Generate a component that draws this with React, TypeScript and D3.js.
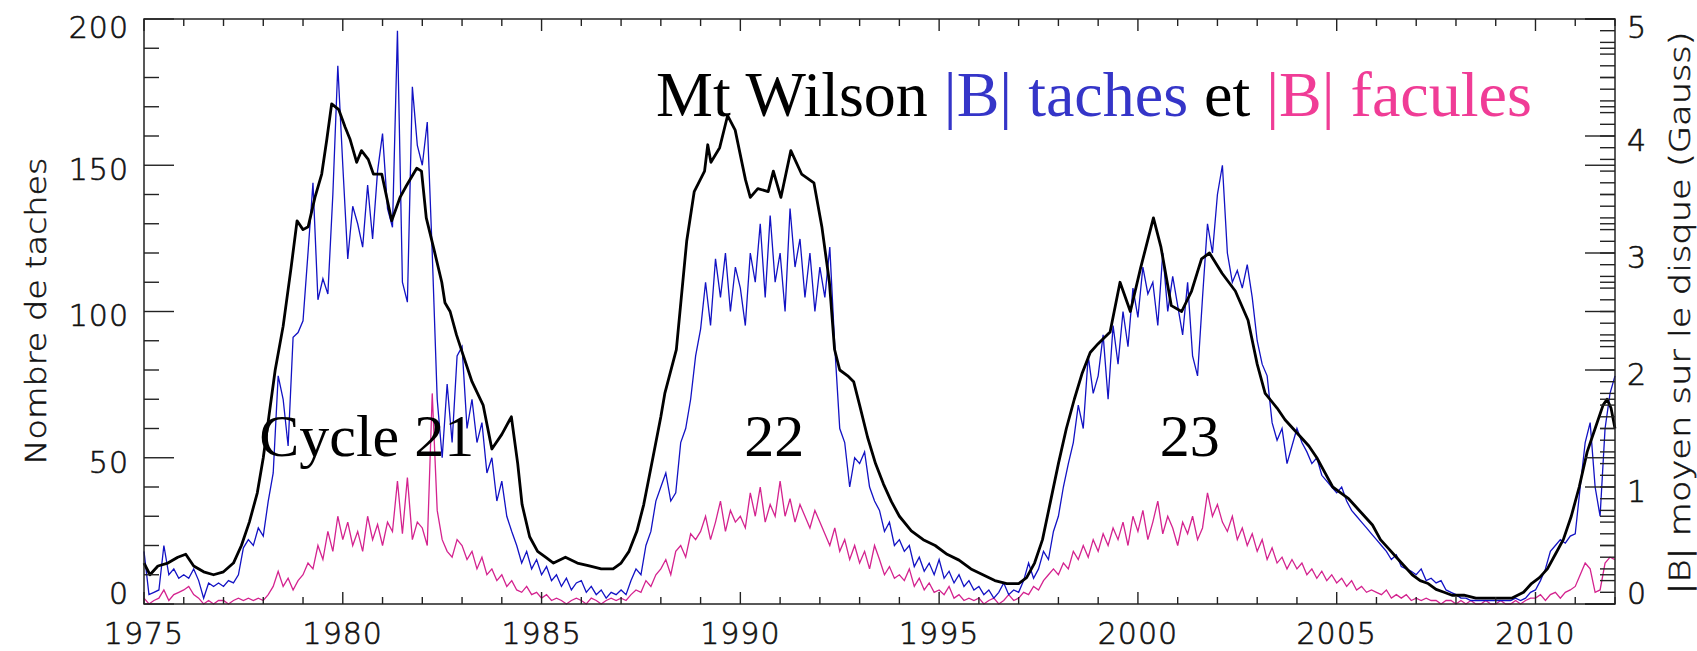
import React, { useEffect, useRef } from 'react'
import * as d3 from 'd3'

// tick labels
const yearTicks = [1975, 1980, 1985, 1990, 1995, 2000, 2005, 2010]
const countTicks = [0, 50, 100, 150, 200]
const gaussTicks = [0, 1, 2, 3, 4, 5]

// smoothed sunspot number, [year, count]
const sunspots: [number, number][] = [
    [1975.0, 14], [1975.15, 10], [1975.35, 13], [1975.6, 14], [1975.85, 16], [1976.05, 17], [1976.25, 13], [1976.5, 11],
    [1976.75, 10], [1977.0, 11], [1977.25, 14], [1977.45, 20], [1977.65, 28], [1977.85, 38], [1978.0, 50], [1978.15, 65],
    [1978.3, 80], [1978.5, 95], [1978.7, 115], [1978.85, 131], [1979.0, 128], [1979.13, 129], [1979.3, 139], [1979.47, 147],
    [1979.6, 159], [1979.72, 171], [1979.9, 169], [1980.06, 163], [1980.18, 159], [1980.35, 151], [1980.47, 155], [1980.64, 152],
    [1980.77, 147], [1980.98, 147], [1981.23, 131], [1981.44, 139], [1981.6, 143], [1981.86, 149], [1981.98, 148], [1982.1, 132],
    [1982.28, 122], [1982.49, 110], [1982.57, 103], [1982.7, 100], [1982.86, 92], [1983.03, 85], [1983.25, 76], [1983.53, 68],
    [1983.75, 53], [1984.0, 58], [1984.24, 64], [1984.4, 48], [1984.51, 34], [1984.7, 23], [1984.9, 18], [1985.1, 16],
    [1985.3, 14], [1985.6, 16], [1985.9, 14], [1986.2, 13], [1986.5, 12], [1986.8, 12], [1987.0, 14], [1987.2, 18],
    [1987.4, 25], [1987.57, 34], [1987.8, 50], [1988.0, 64], [1988.1, 72], [1988.39, 87], [1988.65, 124], [1988.84, 141],
    [1989.1, 148], [1989.18, 157], [1989.26, 151], [1989.48, 156], [1989.68, 167], [1989.87, 162], [1990.13, 145], [1990.25, 139],
    [1990.44, 142], [1990.7, 141], [1990.83, 148], [1991.02, 139], [1991.27, 155], [1991.54, 147], [1991.85, 144], [1992.05, 129],
    [1992.24, 110], [1992.37, 87], [1992.5, 80], [1992.7, 78], [1992.85, 76], [1993.0, 68], [1993.2, 57], [1993.4, 48],
    [1993.6, 41], [1993.8, 35], [1994.0, 30], [1994.3, 25], [1994.6, 22], [1994.9, 20], [1995.2, 17], [1995.5, 15],
    [1995.8, 12], [1996.1, 10], [1996.4, 8], [1996.7, 7], [1997.0, 7], [1997.2, 9], [1997.4, 14], [1997.6, 22],
    [1997.8, 35], [1998.0, 48], [1998.2, 60], [1998.4, 70], [1998.6, 79], [1998.8, 86], [1999.0, 89], [1999.3, 93],
    [1999.55, 110], [1999.81, 100], [2000.07, 115], [2000.39, 132], [2000.58, 122], [2000.84, 102], [2001.1, 100], [2001.35, 107],
    [2001.6, 118], [2001.8, 120], [2002.12, 113], [2002.45, 107], [2002.77, 97], [2003.0, 82], [2003.2, 72], [2003.5, 67],
    [2003.7, 63], [2003.9, 60], [2004.1, 57], [2004.3, 54], [2004.5, 50], [2004.7, 45], [2004.9, 40], [2005.1, 38],
    [2005.3, 36], [2005.5, 33], [2005.7, 30], [2005.9, 27], [2006.1, 22], [2006.3, 19], [2006.5, 16], [2006.7, 13],
    [2006.9, 10], [2007.1, 8], [2007.3, 7], [2007.5, 5], [2007.7, 4], [2007.9, 3], [2008.2, 3], [2008.5, 2],
    [2008.8, 2], [2009.1, 2], [2009.4, 2], [2009.7, 4], [2009.9, 7], [2010.1, 9], [2010.3, 12], [2010.5, 17],
    [2010.7, 22], [2010.9, 30], [2011.1, 40], [2011.3, 52], [2011.5, 60], [2011.7, 68], [2011.8, 70], [2011.9, 67],
    [2012.0, 60],
]

// Mt Wilson |B| (Gauss), 8 samples a year starting 1975.0
const sampleStart = 1975
const samplesPerYear = 8

const bTaches = [
    0.45, 0.08, 0.10, 0.12, 0.50, 0.25, 0.30, 0.22,
    0.25, 0.22, 0.30, 0.20, 0.05, 0.18, 0.15, 0.18,
    0.15, 0.20, 0.18, 0.25, 0.48, 0.55, 0.50, 0.65,
    0.58, 0.88, 1.12, 1.95, 1.75, 1.35, 2.28, 2.32,
    2.42, 3.00, 3.60, 2.60, 2.78, 2.65, 3.50, 4.60,
    3.75, 2.95, 3.40, 3.25, 3.05, 3.58, 3.12, 3.70,
    4.02, 3.38, 3.22, 4.90, 2.75, 2.58, 4.42, 3.92,
    3.75, 4.12, 3.00, 1.75, 1.25, 1.88, 1.38, 2.12,
    2.20, 1.50, 1.75, 1.38, 1.55, 1.12, 1.25, 0.88,
    1.05, 0.75, 0.62, 0.50, 0.35, 0.45, 0.30, 0.38,
    0.25, 0.32, 0.20, 0.25, 0.15, 0.22, 0.12, 0.18,
    0.20, 0.10, 0.15, 0.08, 0.12, 0.05, 0.10, 0.08,
    0.12, 0.08, 0.20, 0.30, 0.25, 0.50, 0.62, 0.88,
    1.00, 1.12, 0.88, 0.95, 1.38, 1.50, 1.75, 2.12,
    2.35, 2.75, 2.38, 2.95, 2.62, 3.00, 2.50, 2.88,
    2.70, 2.38, 3.00, 2.75, 3.25, 2.62, 3.32, 2.75,
    3.00, 2.50, 3.38, 2.88, 3.12, 2.62, 3.00, 2.50,
    2.88, 2.62, 3.05, 2.20, 1.50, 1.38, 1.00, 1.25,
    1.20, 1.30, 1.00, 0.88, 0.80, 0.62, 0.70, 0.50,
    0.55, 0.45, 0.50, 0.32, 0.40, 0.28, 0.35, 0.25,
    0.38, 0.22, 0.28, 0.18, 0.25, 0.15, 0.20, 0.12,
    0.15, 0.08, 0.12, 0.05, 0.10, 0.18, 0.08, 0.12,
    0.10, 0.20, 0.35, 0.22, 0.30, 0.45, 0.38, 0.62,
    0.75, 1.00, 1.20, 1.38, 1.70, 1.50, 2.12, 1.80,
    1.95, 2.30, 1.75, 2.38, 2.05, 2.50, 2.20, 2.70,
    2.45, 2.88, 2.65, 2.75, 2.38, 3.00, 2.50, 2.80,
    2.55, 2.30, 2.75, 2.12, 1.95, 2.62, 3.25, 3.00,
    3.50, 3.75, 3.00, 2.75, 2.85, 2.70, 2.90, 2.62,
    2.25, 2.05, 1.95, 1.55, 1.40, 1.50, 1.20, 1.35,
    1.50, 1.38, 1.30, 1.20, 1.25, 1.10, 1.05, 1.00,
    0.95, 1.00, 0.88, 0.80, 0.75, 0.70, 0.65, 0.60,
    0.55, 0.50, 0.45, 0.38, 0.42, 0.32, 0.30, 0.28,
    0.25, 0.30, 0.20, 0.22, 0.18, 0.20, 0.12, 0.10,
    0.08, 0.05, 0.05, 0.03, 0.03, 0.03, 0.03, 0.03,
    0.03, 0.03, 0.03, 0.03, 0.05, 0.03, 0.05, 0.10,
    0.12, 0.20, 0.30, 0.45, 0.50, 0.55, 0.52, 0.58,
    0.60, 1.00, 1.38, 1.55, 1.00, 0.75, 1.50, 1.80,
    1.95,
]

const bFacules = [
    0.05, 0.00, 0.03, 0.05, 0.12, 0.03, 0.08, 0.10,
    0.12, 0.15, 0.08, 0.05, 0.00, 0.03, 0.00, 0.03,
    0.03, 0.00, 0.03, 0.05, 0.03, 0.05, 0.03, 0.05,
    0.03, 0.08, 0.15, 0.28, 0.15, 0.22, 0.12, 0.20,
    0.25, 0.35, 0.30, 0.50, 0.38, 0.62, 0.45, 0.75,
    0.55, 0.70, 0.50, 0.62, 0.45, 0.75, 0.55, 0.68,
    0.50, 0.70, 0.62, 1.05, 0.60, 1.08, 0.55, 0.70,
    0.65, 0.50, 1.80, 0.80, 0.55, 0.45, 0.40, 0.55,
    0.50, 0.38, 0.45, 0.30, 0.40, 0.25, 0.30, 0.20,
    0.25, 0.15, 0.20, 0.12, 0.10, 0.15, 0.08, 0.10,
    0.05, 0.08, 0.03, 0.05, 0.03, 0.00, 0.03, 0.05,
    0.03, 0.00, 0.05, 0.03, 0.00, 0.03, 0.05, 0.03,
    0.05, 0.03, 0.08, 0.12, 0.10, 0.20, 0.15, 0.25,
    0.30, 0.38, 0.25, 0.45, 0.50, 0.40, 0.60, 0.55,
    0.62, 0.75, 0.55, 0.70, 0.88, 0.62, 0.80, 0.70,
    0.75, 0.65, 0.95, 0.75, 1.00, 0.70, 0.85, 0.75,
    1.05, 0.75, 0.90, 0.70, 0.85, 0.75, 0.65, 0.80,
    0.70, 0.60, 0.50, 0.65, 0.45, 0.55, 0.38, 0.50,
    0.35, 0.45, 0.30, 0.50, 0.38, 0.25, 0.32, 0.22,
    0.25, 0.20, 0.30, 0.15, 0.22, 0.12, 0.18, 0.10,
    0.12, 0.08, 0.15, 0.05, 0.08, 0.03, 0.05, 0.03,
    0.05, 0.00, 0.03, 0.05, 0.00, 0.03, 0.08, 0.03,
    0.05, 0.10, 0.08, 0.15, 0.12, 0.20, 0.25, 0.30,
    0.25, 0.35, 0.30, 0.45, 0.38, 0.50, 0.40, 0.55,
    0.45, 0.60, 0.50, 0.65, 0.55, 0.70, 0.50, 0.75,
    0.62, 0.80, 0.55, 0.70, 0.88, 0.60, 0.75, 0.65,
    0.50, 0.70, 0.60, 0.75, 0.55, 0.65, 0.95, 0.75,
    0.85, 0.70, 0.62, 0.75, 0.55, 0.65, 0.50, 0.60,
    0.45, 0.55, 0.38, 0.48, 0.35, 0.40, 0.30, 0.38,
    0.30, 0.35, 0.25, 0.30, 0.22, 0.28, 0.20, 0.25,
    0.18, 0.22, 0.15, 0.20, 0.12, 0.15, 0.10, 0.12,
    0.10, 0.08, 0.12, 0.05, 0.08, 0.05, 0.08, 0.03,
    0.05, 0.03, 0.05, 0.03, 0.03, 0.00, 0.03, 0.03,
    0.00, 0.03, 0.00, 0.03, 0.00, 0.00, 0.03, 0.00,
    0.00, 0.03, 0.00, 0.00, 0.03, 0.00, 0.03, 0.05,
    0.05, 0.08, 0.03, 0.08, 0.10, 0.05, 0.10, 0.12,
    0.15, 0.25, 0.35, 0.30, 0.10, 0.12, 0.35, 0.40,
    0.38,
]

const cycleLabels = [
    { text: 'Cycle 21', year: 1977.9 },
    { text: '22', year: 1990.1 },
    { text: '23', year: 2000.55 },
]

const SANS = '"DejaVu Sans", sans-serif'
const SERIF = '"Liberation Serif", "Times New Roman", serif'

export default function App() {

    const d3Ref = useRef<SVGSVGElement>(null)

    useEffect(() => {
        const width = 1697
        const height = 651
        const margin = { top: 19, right: 82, bottom: 47, left: 144 }
        const innerWidth = width - margin.left - margin.right
        const innerHeight = height - margin.top - margin.bottom

        const svg = d3.select(d3Ref.current!)
        svg.selectAll('*').remove()
        svg.attr('width', width).attr('height', height)

        svg.append('rect').attr('width', width).attr('height', height).attr('fill', '#fff')

        const g = svg.append('g').attr('transform', `translate(${margin.left},${margin.top})`)

        const x = d3.scaleLinear().domain([1975, 2012]).range([0, innerWidth])
        const yCount = d3.scaleLinear().domain([0, 200]).range([innerHeight, 0])
        const yGauss = d3.scaleLinear().domain([0, 5]).range([innerHeight, 0])

        // data lines
        const gaussLine = d3.line<number>()
            .x((_, i) => x(sampleStart + i / samplesPerYear))
            .y(d => yGauss(d))

        g.append('path')
            .datum(bFacules)
            .attr('fill', 'none')
            .attr('stroke', '#d4238f')
            .attr('stroke-width', 1.3)
            .attr('d', gaussLine)

        g.append('path')
            .datum(bTaches)
            .attr('fill', 'none')
            .attr('stroke', '#1212c4')
            .attr('stroke-width', 1.3)
            .attr('d', gaussLine)

        const countLine = d3.line<[number, number]>()
            .x(d => x(d[0]))
            .y(d => yCount(d[1]))

        g.append('path')
            .datum(sunspots)
            .attr('fill', 'none')
            .attr('stroke', '#000')
            .attr('stroke-width', 2.8)
            .attr('stroke-linejoin', 'round')
            .attr('d', countLine)

        // frame
        const axisColor = '#222'
        g.append('rect')
            .attr('width', innerWidth).attr('height', innerHeight)
            .attr('fill', 'none').attr('stroke', axisColor).attr('stroke-width', 1.5)

        const ticks = g.append('g').attr('stroke', axisColor).attr('stroke-width', 1.4)

        // x ticks, bottom and top, pointing inwards
        d3.range(1975, 2013).forEach(yr => {
            const major = yr % 5 === 0
            const len = major ? 12 : 7
            ticks.append('line').attr('x1', x(yr)).attr('x2', x(yr))
                .attr('y1', innerHeight).attr('y2', innerHeight - len)
            ticks.append('line').attr('x1', x(yr)).attr('x2', x(yr))
                .attr('y1', 0).attr('y2', len)
        })

        // left ticks, mirrored on the right side
        d3.range(0, 201, 10).forEach(v => {
            const len = v % 50 === 0 ? 30 : 15
            ticks.append('line').attr('x1', 0).attr('x2', len)
                .attr('y1', yCount(v)).attr('y2', yCount(v))
            ticks.append('line').attr('x1', innerWidth).attr('x2', innerWidth - len)
                .attr('y1', yCount(v)).attr('y2', yCount(v))
        })

        // right Gauss ticks
        d3.range(0, 51).forEach(k => {
            const len = k % 10 === 0 ? 30 : 15
            const v = k / 10
            ticks.append('line').attr('x1', innerWidth).attr('x2', innerWidth - len)
                .attr('y1', yGauss(v)).attr('y2', yGauss(v))
        })

        // tick labels, thin strokes like the plotting font of the original
        const labelShift = (i: number, n: number) => (i === 0 ? -11 : i === n - 1 ? 8 : 4)
        const styleLabel = (sel: any) => sel
            .attr('font-family', SANS)
            .attr('font-weight', 200)
            .attr('font-size', 30)
            .attr('fill', '#111')
            .attr('stroke', '#111')
            .attr('stroke-width', 0.6)

        g.append('g').selectAll('text').data(yearTicks).join('text')
            .attr('x', d => x(d))
            .attr('y', innerHeight + 40)
            .attr('text-anchor', 'middle')
            .attr('letter-spacing', 1)
            .call(styleLabel)
            .text(d => d)

        g.append('g').selectAll('text').data(countTicks).join('text')
            .attr('x', -15)
            .attr('y', (d, i) => yCount(d) + labelShift(i, countTicks.length))
            .attr('dy', '0.36em')
            .attr('text-anchor', 'end')
            .attr('letter-spacing', 1)
            .call(styleLabel)
            .text(d => d)

        g.append('g').selectAll('text').data(gaussTicks).join('text')
            .attr('x', innerWidth + 12)
            .attr('y', (d, i) => yGauss(d) + labelShift(i, gaussTicks.length))
            .attr('dy', '0.36em')
            .attr('text-anchor', 'start')
            .call(styleLabel)
            .text(d => d)

        // axis titles
        const midY = margin.top + innerHeight / 2
        svg.append('text')
            .attr('transform', `translate(46,${midY + 153}) rotate(-90)`)
            .attr('font-family', SANS)
            .attr('font-weight', 200)
            .attr('font-size', 28)
            .attr('textLength', 307)
            .attr('lengthAdjust', 'spacingAndGlyphs')
            .attr('fill', '#111')
            .attr('stroke', '#111')
            .attr('stroke-width', 0.5)
            .text('Nombre de taches')

        svg.append('text')
            .attr('transform', `translate(1690,${midY + 283}) rotate(-90)`)
            .attr('font-family', SANS)
            .attr('font-weight', 200)
            .attr('font-size', 28)
            .attr('textLength', 563)
            .attr('lengthAdjust', 'spacingAndGlyphs')
            .attr('fill', '#111')
            .attr('stroke', '#111')
            .attr('stroke-width', 0.5)
            .text('|B| moyen sur le disque (Gauss)')

        // title
        const title = svg.append('text')
            .attr('x', 656)
            .attr('y', 116)
            .attr('font-family', SERIF)
            .attr('font-size', 64)
        title.append('tspan').attr('fill', '#000').text('Mt Wilson ')
        title.append('tspan').attr('fill', '#3535c8').text('|B| taches')
        title.append('tspan').attr('fill', '#000').text(' et ')
        title.append('tspan').attr('fill', '#f03c96').text('|B| facules')

        // cycle numbers
        g.append('g').selectAll('text').data(cycleLabels).join('text')
            .attr('x', d => x(d.year))
            .attr('y', 456 - margin.top)
            .attr('font-family', SERIF)
            .attr('font-size', 60)
            .attr('fill', '#000')
            .text(d => d.text)

    }, [])

    return (
        <div style={{ position: 'absolute', left: 0, top: 0 }}>
            <svg ref={d3Ref}></svg>
        </div>
    )
}
